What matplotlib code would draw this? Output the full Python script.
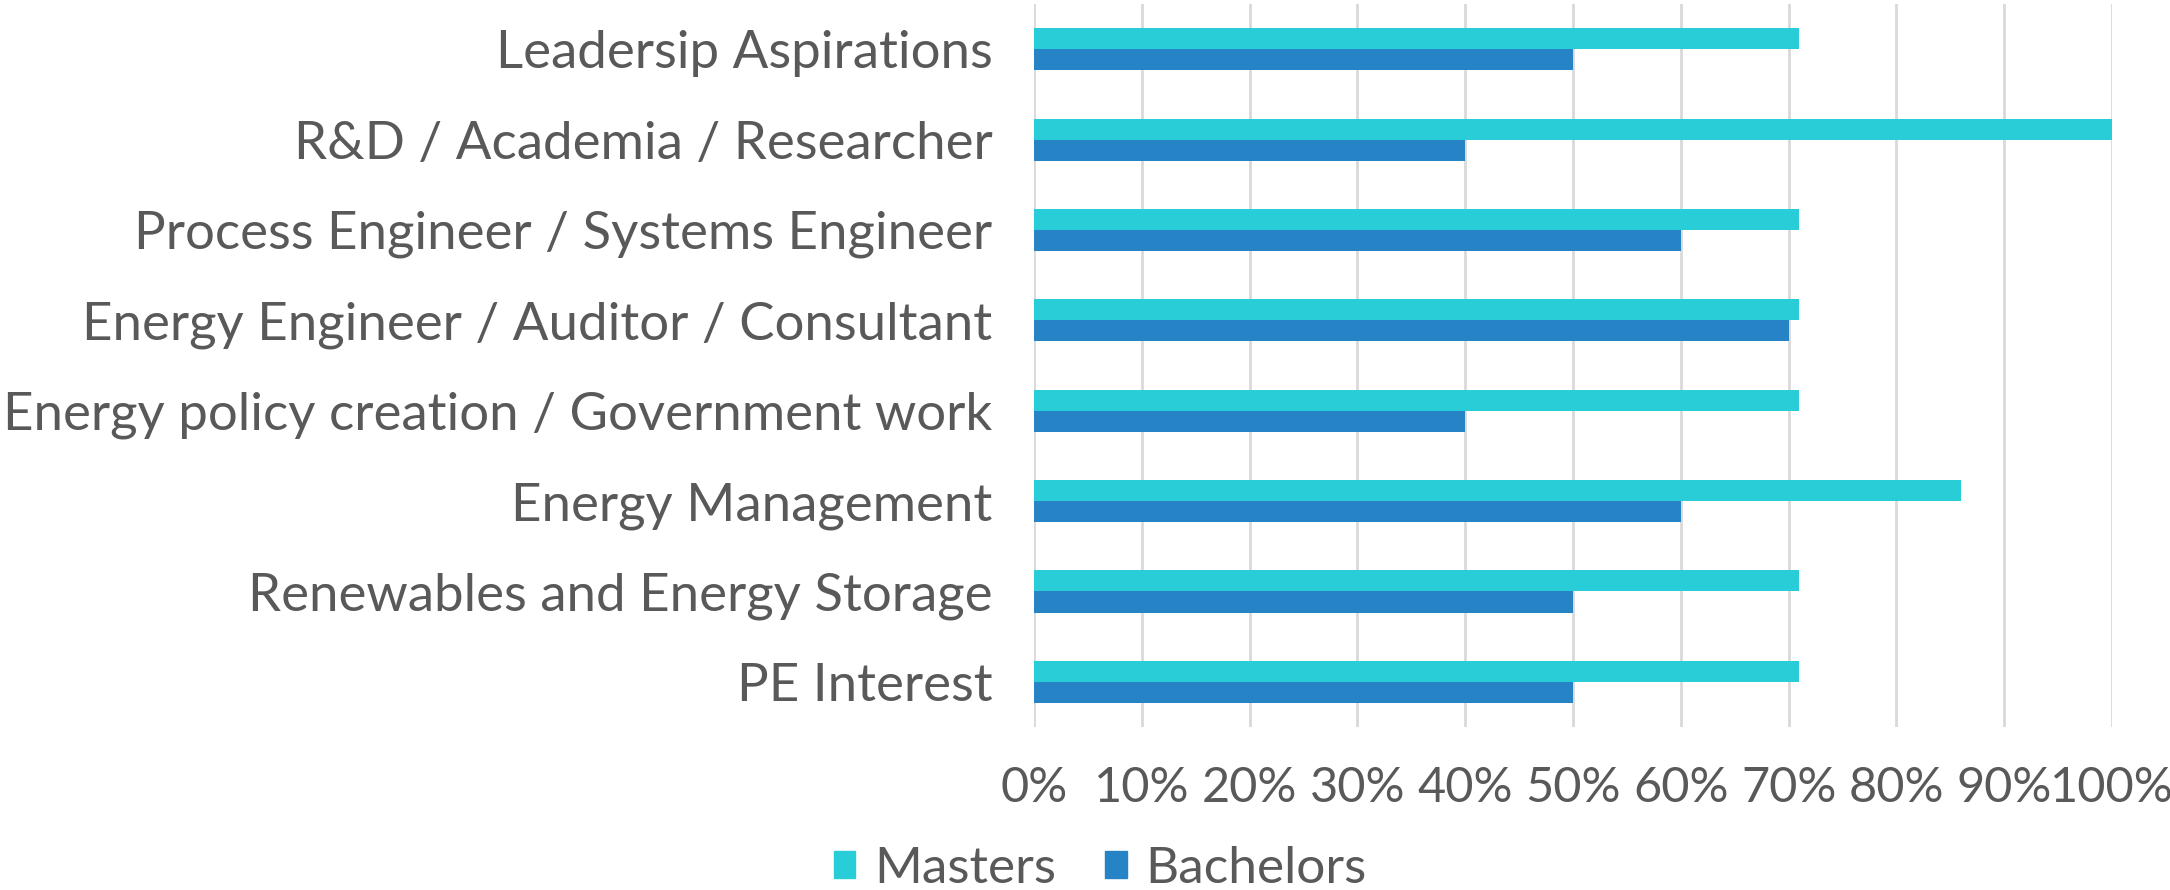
import numpy as np
import matplotlib.pyplot as plt
from matplotlib.patches import Patch
from matplotlib.ticker import PercentFormatter

categories = ["Leadersip Aspirations", "R&D / Academia / Researcher",
              "Process Engineer / Systems Engineer",
              "Energy Engineer / Auditor / Consultant",
              "Energy policy creation / Government work",
              "Energy Management", "Renewables and Energy Storage",
              "PE Interest"]
masters = [0.71, 1.00, 0.71, 0.71, 0.71, 0.86, 0.71, 0.71]
bachelors = [0.50, 0.40, 0.60, 0.70, 0.40, 0.60, 0.50, 0.50]

c_masters = "#29CDD7"
c_bachelors = "#2683C6"
txt = "#595959"

plt.rcParams['font.family'] = ['Lato', 'DejaVu Sans']

fig = plt.figure(figsize=(21.7, 8.9), dpi=100)
ax = fig.add_axes([0.4765, 0.1831, 0.9733 - 0.4765, 0.9955 - 0.1831])

y = np.arange(len(categories))
h = 0.233
ax.barh(y - h / 2, masters, height=h, color=c_masters, zorder=3)
ax.barh(y + h / 2, bachelors, height=h, color=c_bachelors, zorder=3)

ax.set_xlim(0, 1)
ax.set_ylim(len(categories) - 0.5, -0.5)
ax.set_xticks(np.arange(0, 1.01, 0.1))
ax.xaxis.set_major_formatter(PercentFormatter(1.0, decimals=0))
ax.set_yticks(y)
ax.set_yticklabels(categories)
ax.tick_params(axis='both', length=0, labelcolor=txt)
ax.tick_params(axis='x', pad=28, labelsize=35)
ax.tick_params(axis='y', pad=30, labelsize=38)
ax.grid(axis='x', color="#D9D9D9", linewidth=2, zorder=0)
for s in ax.spines.values():
    s.set_visible(False)

handles = [Patch(color=c_masters, label="Masters"),
           Patch(color=c_bachelors, label="Bachelors")]
fig.legend(handles=handles, loc='center', bbox_to_anchor=(0.507, 0.024),
           ncol=2, frameon=False, fontsize=37, labelcolor=txt,
           handlelength=0.42, handleheight=0.42, handletextpad=0.36,
           columnspacing=0.96)

fig.savefig("out.png", dpi=100)
